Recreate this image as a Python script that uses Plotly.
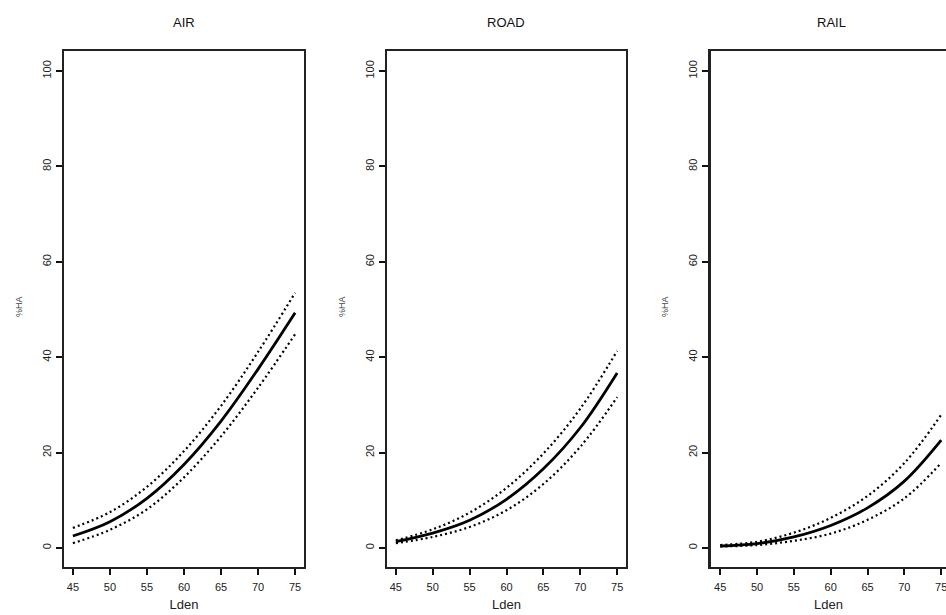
import plotly.graph_objects as go

# ---- data ----
lden = [45, 50, 55, 60, 65, 70, 75]

air_ha = [2.5, 5.5, 10.4, 17.5, 26.6, 37.5, 49.3]
air_hi = [4.2, 7.5, 12.8, 20.3, 29.8, 41.1, 53.5]
air_lo = [1.0, 3.8, 8.1, 14.8, 23.4, 33.6, 44.8]

road_ha = [1.3, 3.1, 5.8, 10.2, 16.6, 25.2, 36.7]
road_hi = [1.6, 3.9, 7.4, 12.6, 19.8, 29.2, 41.3]
road_lo = [1.0, 2.3, 4.4, 7.9, 13.4, 21.2, 31.6]

rail_ha = [0.4, 0.9, 2.3, 4.7, 8.4, 14.0, 22.6]
rail_hi = [0.6, 1.3, 3.2, 6.3, 10.9, 17.8, 27.9]
rail_lo = [0.3, 0.6, 1.5, 3.0, 5.9, 10.4, 17.8]

titles = ["AIR", "ROAD", "RAIL"]
x_ticks = [45, 50, 55, 60, 65, 70, 75]
y_ticks = [0, 20, 40, 60, 80, 100]

W, H = 946, 615
panels = [
    dict(x0=64, x1=304, xr=[43.8, 76.2], ha=air_ha, hi=air_hi, lo=air_lo, ylab_x=19, right=True, tx=184),
    dict(x0=387, x1=626, xr=[43.8, 76.2], ha=road_ha, hi=road_hi, lo=road_lo, ylab_x=342, right=True, tx=506),
    dict(x0=711, x1=946, xr=[43.75, 75.65], ha=rail_ha, hi=rail_hi, lo=rail_lo, ylab_x=665, right=False, tx=831),
]
top_px, bot_px = 51, 567

fig = go.Figure()
font_fam = "Liberation Sans, Arial, Helvetica, sans-serif"

for i, p in enumerate(panels):
    n = "" if i == 0 else str(i + 1)
    xa, ya = "x" + n, "y" + n
    for ys, w, dash in [(p["hi"], 2.2, "2px,3px"), (p["lo"], 2.2, "2px,3px"), (p["ha"], 2.8, "solid")]:
        fig.add_trace(go.Scatter(
            x=lden, y=ys, mode="lines", xaxis=xa, yaxis=ya,
            line=dict(color="black", width=w, dash=dash, shape="spline", smoothing=1.0),
            showlegend=False, hoverinfo="skip"))
    dom_x = [p["x0"] / W, p["x1"] / W]
    dom_y = [1 - bot_px / H, 1 - top_px / H]
    fig.layout["xaxis" + n] = dict(
        domain=dom_x, range=p["xr"], anchor=ya, tickvals=x_ticks,
        ticks="outside", ticklen=6, tickwidth=2, tickcolor="#111",
        showline=True, linewidth=2, linecolor="#222", mirror=True,
        showgrid=False, zeroline=False, ticklabelstandoff=3,
        ticklabeloverflow="allow",
        tickfont=dict(size=11, color="#222", family=font_fam),
        title=dict(text="Lden", font=dict(size=13, color="#222", family=font_fam), standoff=8),
    )
    fig.layout["yaxis" + n] = dict(
        domain=dom_y, range=[-4.0, 104.2], anchor=xa, tickvals=y_ticks,
        ticks="outside", ticklen=6, tickwidth=2, tickcolor="#111",
        showline=True, linewidth=3 if i == 2 else 2, linecolor="#222",
        mirror=p["right"], showgrid=False, zeroline=False, tickangle=-90,
        ticklabelstandoff=1,
        tickfont=dict(size=11, color="#222", family=font_fam),
    )
    fig.add_annotation(
        text=titles[i], xref="paper", yref="paper",
        x=p["tx"] / W, y=1 - 23 / H,
        showarrow=False, font=dict(size=13, color="#111", family=font_fam),
        xanchor="center", yanchor="middle")
    fig.add_annotation(
        text="%HA", xref="paper", yref="paper", x=p["ylab_x"] / W, y=1 - 307 / H,
        showarrow=False, textangle=-90, font=dict(size=9, color="#444", family=font_fam),
        xanchor="center", yanchor="middle")

fig.update_layout(
    width=W, height=H, margin=dict(l=0, r=0, t=0, b=0),
    paper_bgcolor="white", plot_bgcolor="white",
)
fig.write_html("out.html", config={"displayModeBar": False},
               post_script="document.body.style.margin='0px';")
